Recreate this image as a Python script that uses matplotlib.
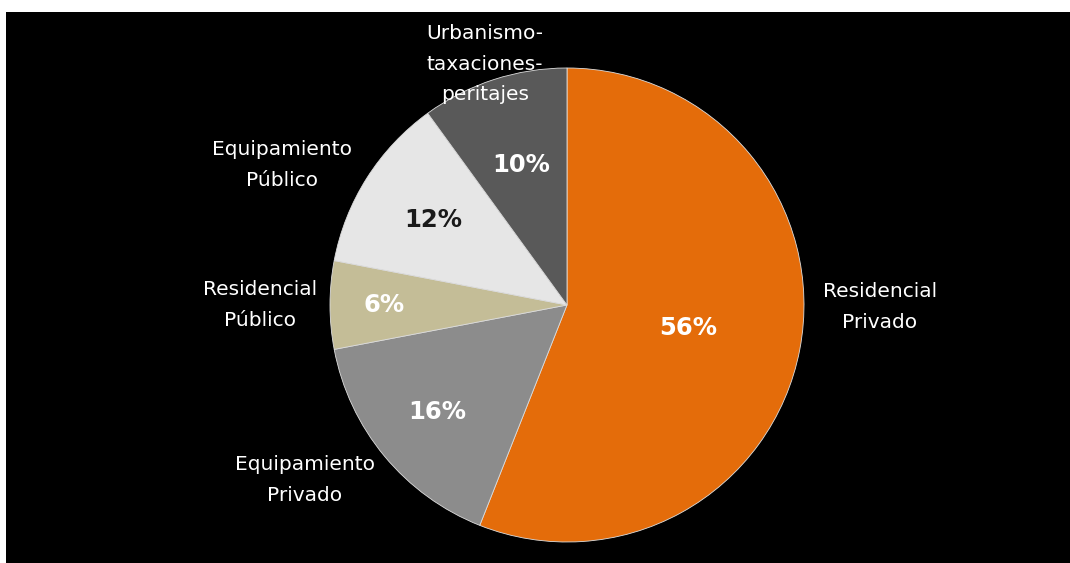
import numpy as np
import matplotlib
matplotlib.use("Agg")
import matplotlib.pyplot as plt
from matplotlib.patches import Rectangle

# --- data ---
categories = ["Residencial\nPrivado", "Equipamiento\nPrivado", "Residencial\nPúblico",
              "Equipamiento\nPúblico", "Urbanismo-\ntaxaciones-\nperitajes"]
shares = [56, 16, 6, 12, 10]
pct_labels = ["56%", "16%", "6%", "12%", "10%"]

colors = ["#E46C0A", "#8C8C8C", "#C4BD97", "#E6E6E6", "#595959"]
pct_colors = ["white", "white", "white", "#1a1a1a", "white"]
pct_dist = [0.52, 0.71, 0.77, 0.67, 0.62]

W, H = 1070, 563
fig = plt.figure(figsize=(W / 100, H / 100), dpi=100, facecolor="white")
ax = fig.add_axes([0, 0, 1, 1])

# black panel
ax.add_patch(Rectangle((6, 0), W - 6, H - 12, facecolor="black", edgecolor="none", zorder=0))

cx, cy, R = 567, H - 305, 237
wedges, _ = ax.pie(shares, colors=colors, startangle=90, counterclock=False,
                   center=(cx, cy), radius=R, frame=True,
                   wedgeprops=dict(edgecolor="#dddddd", linewidth=0.6))
ax.set_xlim(0, W)
ax.set_ylim(0, H)
ax.axis("off")

# percent labels along wedge mid-angles
for w, txt, c, d in zip(wedges, pct_labels, pct_colors, pct_dist):
    ang = np.deg2rad((w.theta1 + w.theta2) / 2)
    ax.text(cx + d * R * np.cos(ang), cy + d * R * np.sin(ang), txt,
            color=c, fontsize=17.5, fontweight="bold", ha="center", va="center")

# category labels
label_pos = [(880, H - 307), (305, H - 480), (260, H - 305), (282, H - 165), (485, H - 64)]
for (x, y), txt in zip(label_pos, categories):
    ax.text(x, y, txt, color="white", fontsize=14.5, ha="center", va="center",
            linespacing=1.75)

fig.savefig("out.png", dpi=100, facecolor="white")
